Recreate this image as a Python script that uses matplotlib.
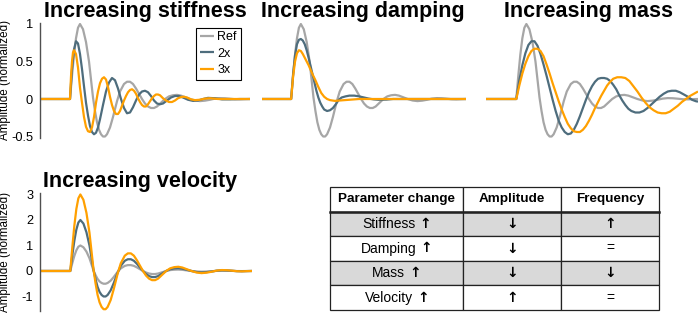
import matplotlib
matplotlib.use('Agg')
import matplotlib.pyplot as plt
from matplotlib.offsetbox import TextArea, HPacker, AnnotationBbox

# Damped responses (time in px-ish units, onset at t=30)

ref_t = [0, 30, 32, 34, 36, 38, 40, 43, 46, 49, 51, 53, 55, 57, 59, 61, 63, 65, 67, 70,
         73, 77, 80, 84, 87, 90, 93, 96, 99, 102, 105, 108, 111, 114, 117, 121, 125, 129,
         133, 137, 141, 145, 150, 155, 160, 165, 170, 175, 180, 185, 190, 195, 200, 205, 210]
ref_y = [0, 0, 0.31, 0.59, 0.81, 0.95, 1.0, 0.93, 0.76, 0.5, 0.26, 0.02, -0.16, -0.31, -0.41,
         -0.47, -0.5, -0.5, -0.47, -0.38, -0.24, -0.03, 0.1, 0.2, 0.23, 0.23, 0.2, 0.14, 0.07,
         0.0, -0.06, -0.1, -0.12, -0.12, -0.1, -0.05, 0.0, 0.035, 0.05, 0.055, 0.045, 0.025,
         0.0, -0.02, -0.028, -0.022, -0.01, 0.005, 0.012, 0.01, 0.004, -0.003, -0.005, -0.002, 0.0]

# stiffness
stiff2_t = [0, 30, 32, 34, 36, 38, 40, 42, 44, 46, 48, 50, 52, 54, 56, 58, 60, 63, 66, 69, 72,
            75, 78, 81, 84, 87, 90, 93, 96, 99, 102, 105, 108, 111, 114, 117, 120, 123, 127,
            131, 135, 139, 143, 148, 153, 158, 163, 168, 175, 182, 190, 200, 210]
stiff2_y = [0, 0, 0.4, 0.66, 0.77, 0.74, 0.6, 0.4, 0.17, -0.05, -0.22, -0.36, -0.44, -0.47,
            -0.45, -0.38, -0.27, -0.08, 0.1, 0.22, 0.28, 0.25, 0.14, 0.0, -0.12, -0.19, -0.18,
            -0.11, -0.02, 0.06, 0.1, 0.11, 0.09, 0.04, -0.02, -0.06, -0.07, -0.06, -0.02, 0.02,
            0.04, 0.04, 0.02, -0.01, -0.025, -0.02, 0.0, 0.015, 0.01, -0.005, -0.005, 0.0, 0.0]

stiff3_t = [0, 30, 31, 32, 33, 34, 36, 38, 40, 42, 44, 46, 48, 50, 52, 54, 56, 58, 60, 62, 64,
            66, 68, 70, 72, 74, 76, 78, 80, 82, 84, 86, 88, 90, 92, 94, 96, 98, 100, 102, 104,
            106, 108, 110, 112, 114, 116, 118, 120, 123, 126, 129, 132, 135, 138, 141, 144,
            147, 151, 155, 160, 165, 170, 178, 190, 210]
stiff3_y = [0, 0, 0.3, 0.5, 0.62, 0.65, 0.6, 0.42, 0.15, -0.05, -0.24, -0.37, -0.43, -0.44,
            -0.38, -0.24, -0.05, 0.1, 0.21, 0.27, 0.29, 0.26, 0.16, 0.03, -0.08, -0.16, -0.2,
            -0.2, -0.16, -0.09, -0.02, 0.04, 0.09, 0.12, 0.13, 0.11, 0.07, 0.01, -0.04, -0.08,
            -0.1, -0.1, -0.07, -0.03, 0.01, 0.04, 0.06, 0.06, 0.05, 0.01, -0.02, -0.04, -0.04,
            -0.02, 0.01, 0.025, 0.03, 0.02, -0.005, -0.015, -0.01, 0.005, 0.01, 0.0, 0.0, 0.0]

# damping
damp2_t = [0, 30, 32, 34, 36, 38, 40, 42, 44, 46, 48, 50, 52, 54, 56, 58, 60, 62, 64, 67, 70,
           73, 76, 79, 82, 86, 90, 95, 100, 105, 110, 115, 120, 128, 135, 150, 210]
damp2_y = [0, 0, 0.33, 0.58, 0.73, 0.79, 0.8, 0.78, 0.73, 0.65, 0.55, 0.44, 0.33, 0.22, 0.11,
           0.02, -0.05, -0.1, -0.14, -0.16, -0.15, -0.12, -0.07, -0.01, 0.02, 0.035, 0.045,
           0.045, 0.035, 0.02, 0.005, -0.005, -0.01, -0.008, 0.0, 0.0, 0.0]

damp3_t = [0, 30, 32, 34, 36, 38, 40, 42, 44, 46, 48, 50, 52, 55, 58, 61, 64, 67, 70, 75, 80,
           85, 90, 100, 210]
damp3_y = [0, 0, 0.3, 0.5, 0.61, 0.65, 0.64, 0.6, 0.55, 0.5, 0.45, 0.39, 0.33, 0.25, 0.16,
           0.08, 0.03, 0.0, -0.015, -0.025, -0.02, -0.015, -0.01, 0.0, 0.0]

# mass
mass2_t = [0, 30, 33, 36, 39, 42, 45, 48, 51, 54, 57, 60, 63, 66, 69, 72, 75, 78, 81, 84, 87,
           90, 93, 96, 99, 102, 105, 108, 111, 114, 117, 120, 123, 126, 129, 132, 135, 138,
           141, 144, 148, 152, 156, 160, 164, 168, 172, 176, 180, 184, 188, 192, 196, 200,
           204, 208, 210]
mass2_y = [0, 0, 0.25, 0.45, 0.61, 0.72, 0.77, 0.77, 0.71, 0.6, 0.46, 0.31, 0.15, -0.01,
           -0.16, -0.29, -0.38, -0.44, -0.47, -0.46, -0.41, -0.33, -0.23, -0.12, -0.01, 0.09,
           0.17, 0.23, 0.27, 0.28, 0.28, 0.27, 0.24, 0.19, 0.13, 0.05, -0.02, -0.08, -0.13,
           -0.16, -0.18, -0.18, -0.16, -0.12, -0.07, -0.02, 0.03, 0.07, 0.1, 0.11, 0.11, 0.09,
           0.06, 0.03, -0.01, -0.03, -0.035]

mass3_t = [0, 30, 33, 36, 39, 42, 45, 48, 51, 54, 57, 60, 63, 66, 69, 72, 75, 78, 81, 84, 87,
           90, 93, 96, 99, 102, 105, 108, 111, 114, 117, 120, 123, 126, 130, 134, 138, 142,
           146, 150, 154, 158, 162, 166, 170, 174, 178, 182, 186, 190, 194, 198, 202, 206, 210]
mass3_y = [0, 0, 0.18, 0.34, 0.47, 0.57, 0.64, 0.67, 0.67, 0.64, 0.57, 0.46, 0.34, 0.21, 0.09,
           -0.03, -0.14, -0.24, -0.33, -0.39, -0.43, -0.44, -0.44, -0.41, -0.36, -0.29, -0.21,
           -0.12, -0.04, 0.04, 0.11, 0.18, 0.23, 0.27, 0.29, 0.29, 0.28, 0.24, 0.17, 0.1, 0.02,
           -0.05, -0.11, -0.15, -0.18, -0.19, -0.19, -0.17, -0.13, -0.09, -0.04, 0.0, 0.04,
           0.07, 0.1]

# velocity (same time base as ref)
vel2_y = [0, 0, 0.62, 1.18, 1.62, 1.9, 2.0, 1.86, 1.52, 1.0, 0.52, 0.04, -0.32, -0.62, -0.82,
          -0.94, -1.0, -1.0, -0.94, -0.76, -0.48, -0.06, 0.2, 0.4, 0.46, 0.46, 0.4, 0.28, 0.14,
          0.0, -0.12, -0.2, -0.24, -0.24, -0.2, -0.1, 0.0, 0.07, 0.1, 0.11, 0.09, 0.05, 0.0,
          -0.04, -0.056, -0.044, -0.02, 0.01, 0.024, 0.02, 0.008, -0.006, -0.01, -0.004, 0.0]
vel3_y = [0, 0, 0.93, 1.77, 2.43, 2.85, 3.0, 2.79, 2.28, 1.5, 0.78, 0.06, -0.48, -0.93, -1.23,
          -1.41, -1.5, -1.5, -1.41, -1.14, -0.72, -0.09, 0.3, 0.6, 0.69, 0.69, 0.6, 0.42, 0.21,
          0.0, -0.18, -0.3, -0.36, -0.36, -0.3, -0.15, 0.0, 0.105, 0.15, 0.165, 0.135, 0.075,
          0.0, -0.06, -0.084, -0.066, -0.03, 0.015, 0.036, 0.03, 0.012, -0.009, -0.015,
          -0.006, 0.0]

series_labels = ['Ref', '2x', '3x']
titles = ['Increasing stiffness', 'Increasing damping', 'Increasing mass',
          'Increasing velocity']

UP, DOWN = '\u2191', '\u2193'
table_header = ['Parameter change', 'Amplitude', 'Frequency']
table_params = ['Stiffness', 'Damping', 'Mass', 'Velocity']
table_amp = [DOWN, DOWN, DOWN, UP]
table_freq = [UP, '=', DOWN, '=']

GRAY = '#a6a6a6'
BLUE = '#4e6d7d'
ORANGE = '#ffa000'
colors = [GRAY, BLUE, ORANGE]

plt.rcParams['font.family'] = ['Liberation Sans', 'DejaVu Sans']
plt.rcParams['axes.unicode_minus'] = False

W, H = 699, 314
fig = plt.figure(figsize=(W / 100, H / 100), dpi=100)


def px_rect(left, top, width, height):
    return [left / W, 1 - (top + height) / H, width / W, height / H]


def make_panel(rect, curves, title, ylim, yticks=None, pad=3.6, title_x=0.5):
    ax = fig.add_axes(px_rect(*rect))
    for (t, y), c in zip(curves, colors):
        ax.plot(t, y, color=c, lw=1.6, solid_capstyle='butt')
    ax.set_xlim(0, 210)
    ax.set_ylim(*ylim)
    for s in ['top', 'right', 'bottom']:
        ax.spines[s].set_visible(False)
    ax.set_xticks([])
    if yticks is None:
        ax.spines['left'].set_visible(False)
        ax.set_yticks([])
    else:
        ax.spines['left'].set_color('#505050')
        ax.spines['left'].set_linewidth(1.0)
        ax.set_yticks(yticks[0])
        ax.set_yticklabels(yticks[1], fontsize=9.2)
        ax.tick_params(axis='y', length=0, pad=5)
        ax.set_ylabel('Amplitude (normalized)', fontsize=8.4)
        ax.yaxis.set_label_coords(-0.137, 0.5)
    ax.set_title(title, fontsize=15.5, fontweight='bold', pad=pad, x=title_x)
    return ax


ax1 = make_panel((40, 22.5, 210, 115.5),
                 [(ref_t, ref_y), (stiff2_t, stiff2_y), (stiff3_t, stiff3_y)],
                 titles[0], (-0.52, 1.02),
                 ([-0.5, 0, 0.5, 1], ['-0.5', '0', '0.5', '1']))
leg = ax1.legend(series_labels, loc='upper right', bbox_to_anchor=(0.955, 0.955),
                 borderaxespad=0, fontsize=9, handlelength=1.1, handletextpad=0.3,
                 labelspacing=0.35, borderpad=0.3, fancybox=False, framealpha=1)
leg.get_frame().set_edgecolor('black')
leg.get_frame().set_linewidth(0.8)

make_panel((262, 22.5, 204, 115.5),
           [(ref_t, ref_y), (damp2_t, damp2_y), (damp3_t, damp3_y)],
           titles[1], (-0.52, 1.02), title_x=0.495)

make_panel((486, 22.5, 212, 115.5),
           [(ref_t, ref_y), (mass2_t, mass2_y), (mass3_t, mass3_y)],
           titles[2], (-0.52, 1.02), title_x=0.483)

make_panel((40, 193.2, 212, 117.3),
           [(ref_t, ref_y), (ref_t, vel2_y), (ref_t, vel3_y)],
           titles[3], (-1.55, 3.05),
           ([-1, 0, 1, 2, 3], ['-1', '0', '1', '2', '3']), pad=4.7, title_x=0.472)

# table: grid and shading from ax.table, texts placed on top
axt = fig.add_axes(px_rect(330, 187, 329, 123))
axt.axis('off')
n_rows = len(table_params) + 1
col_w = [133 / 329, 98 / 329, 98 / 329]
cell_colors = [['white'] * 3] + [['#d9d9d9'] * 3 if i % 2 == 0 else ['white'] * 3
                                 for i in range(len(table_params))]
tab = axt.table(cellText=[[''] * 3 for _ in range(n_rows)], cellColours=cell_colors,
                colWidths=col_w, bbox=[0, 0, 1, 1])
for (r, c), cell in tab.get_celld().items():
    cell.set_edgecolor('#222222')
    cell.set_linewidth(0.9)
axt.plot([0, 1], [1 - 1 / n_rows] * 2, color='#222222', lw=1.8,
         transform=axt.transAxes, clip_on=False)

col_x = [col_w[0] / 2, col_w[0] + col_w[1] / 2, col_w[0] + col_w[1] + col_w[2] / 2]
row_y = [1 - (i + 0.5) / n_rows for i in range(n_rows)]
arrow_props = dict(family='DejaVu Sans', fontweight='bold', fontsize=10)

for x, lab in zip(col_x, table_header):
    axt.text(x, row_y[0], lab, ha='center', va='center', fontsize=9.7, fontweight='bold',
             transform=axt.transAxes)

for i, name in enumerate(table_params):
    y = row_y[i + 1]
    box = HPacker(children=[TextArea(name, textprops=dict(fontsize=10)),
                            TextArea(UP, textprops=arrow_props)],
                  pad=0, sep=3, align='baseline')
    axt.add_artist(AnnotationBbox(box, (col_x[0], y), xycoords='axes fraction',
                                  frameon=False, box_alignment=(0.5, 0.5), pad=0))
    for x, val in zip(col_x[1:], [table_amp[i], table_freq[i]]):
        props = arrow_props if val in (UP, DOWN) else dict(fontsize=10)
        axt.text(x, y, val, ha='center', va='center', transform=axt.transAxes, **props)

fig.savefig('out.png', dpi=100)
